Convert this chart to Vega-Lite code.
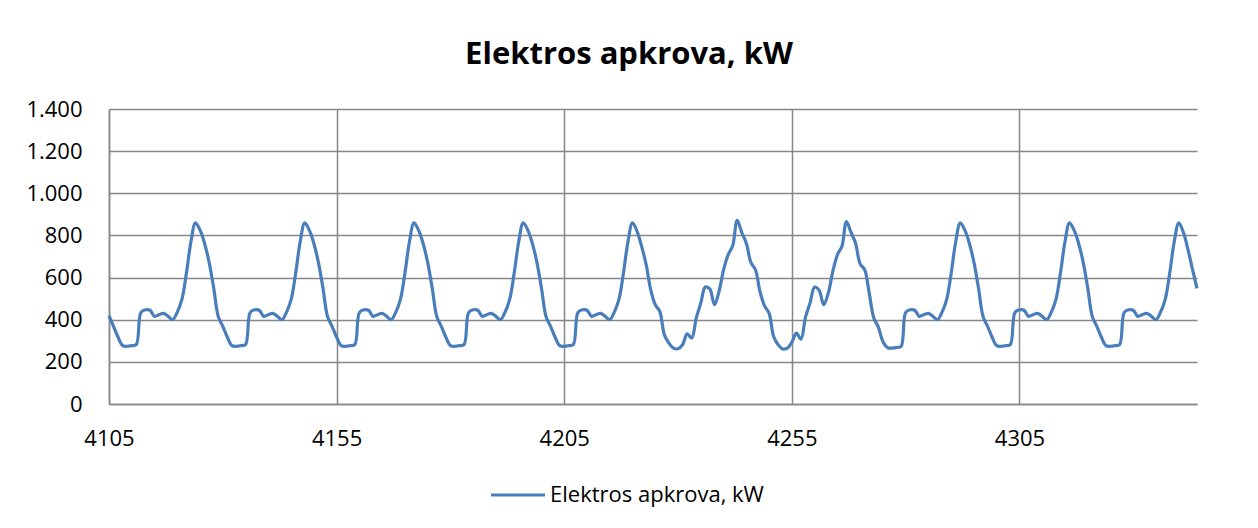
{
  "$schema": "https://vega.github.io/schema/vega-lite/v6.json",
  "width": 1088,
  "height": 295,
  "autosize": {"type": "none"},
  "padding": {"left": 109, "top": 109, "right": 61, "bottom": 124},
  "background": "white",
  "title": {"text": "Elektros apkrova, kW", "font": "Open Sans", "fontSize": 31, "fontWeight": "bold", "color": "#000000", "anchor": "middle", "dx": -24, "offset": 3, "baseline": "alphabetic"},
  "data": {"values": [
    {"x":4105,"y":419},{"x":4106,"y":368},{"x":4107,"y":317},{"x":4108,"y":277},{"x":4109,"y":274},{"x":4110,"y":277},{"x":4111,"y":282},{"x":4112,"y":434},{"x":4113,"y":447},{"x":4114,"y":445},{"x":4115,"y":416},{"x":4116,"y":424},{"x":4117,"y":430},{"x":4118,"y":416},{"x":4119,"y":400},{"x":4120,"y":436},{"x":4121,"y":495},{"x":4122,"y":620},{"x":4123,"y":770},{"x":4124,"y":860},{"x":4125,"y":825},{"x":4126,"y":762},{"x":4127,"y":672},{"x":4128,"y":550},
    {"x":4129,"y":415},{"x":4130,"y":368},{"x":4131,"y":317},{"x":4132,"y":277},{"x":4133,"y":274},{"x":4134,"y":277},{"x":4135,"y":282},{"x":4136,"y":434},{"x":4137,"y":447},{"x":4138,"y":445},{"x":4139,"y":416},{"x":4140,"y":424},{"x":4141,"y":430},{"x":4142,"y":416},{"x":4143,"y":400},{"x":4144,"y":436},{"x":4145,"y":495},{"x":4146,"y":620},{"x":4147,"y":770},{"x":4148,"y":860},{"x":4149,"y":825},{"x":4150,"y":762},{"x":4151,"y":672},{"x":4152,"y":550},
    {"x":4153,"y":415},{"x":4154,"y":368},{"x":4155,"y":317},{"x":4156,"y":277},{"x":4157,"y":274},{"x":4158,"y":277},{"x":4159,"y":282},{"x":4160,"y":434},{"x":4161,"y":447},{"x":4162,"y":445},{"x":4163,"y":416},{"x":4164,"y":424},{"x":4165,"y":430},{"x":4166,"y":416},{"x":4167,"y":400},{"x":4168,"y":436},{"x":4169,"y":495},{"x":4170,"y":620},{"x":4171,"y":770},{"x":4172,"y":860},{"x":4173,"y":825},{"x":4174,"y":762},{"x":4175,"y":672},{"x":4176,"y":550},
    {"x":4177,"y":415},{"x":4178,"y":368},{"x":4179,"y":317},{"x":4180,"y":277},{"x":4181,"y":274},{"x":4182,"y":277},{"x":4183,"y":282},{"x":4184,"y":434},{"x":4185,"y":447},{"x":4186,"y":445},{"x":4187,"y":416},{"x":4188,"y":424},{"x":4189,"y":430},{"x":4190,"y":416},{"x":4191,"y":400},{"x":4192,"y":436},{"x":4193,"y":495},{"x":4194,"y":620},{"x":4195,"y":770},{"x":4196,"y":860},{"x":4197,"y":825},{"x":4198,"y":762},{"x":4199,"y":672},{"x":4200,"y":550},
    {"x":4201,"y":415},{"x":4202,"y":368},{"x":4203,"y":317},{"x":4204,"y":277},{"x":4205,"y":274},{"x":4206,"y":277},{"x":4207,"y":282},{"x":4208,"y":434},{"x":4209,"y":447},{"x":4210,"y":445},{"x":4211,"y":416},{"x":4212,"y":424},{"x":4213,"y":430},{"x":4214,"y":416},{"x":4215,"y":400},{"x":4216,"y":436},{"x":4217,"y":495},{"x":4218,"y":620},{"x":4219,"y":770},{"x":4220,"y":860},{"x":4221,"y":819},{"x":4222,"y":748},{"x":4223,"y":661},{"x":4224,"y":542},
    {"x":4225,"y":471},{"x":4226,"y":439},{"x":4227,"y":328},{"x":4228,"y":289},{"x":4229,"y":265},{"x":4230,"y":262},{"x":4231,"y":281},{"x":4232,"y":333},{"x":4233,"y":313},{"x":4234,"y":408},{"x":4235,"y":479},{"x":4236,"y":555},{"x":4237,"y":545},{"x":4238,"y":471},{"x":4239,"y":534},{"x":4240,"y":637},{"x":4241,"y":708},{"x":4242,"y":751},{"x":4243,"y":871},{"x":4244,"y":814},{"x":4245,"y":763},{"x":4246,"y":672},{"x":4247,"y":637},{"x":4248,"y":534},
    {"x":4249,"y":466},{"x":4250,"y":431},{"x":4251,"y":320},{"x":4252,"y":281},{"x":4253,"y":261},{"x":4254,"y":265},{"x":4255,"y":292},{"x":4256,"y":336},{"x":4257,"y":308},{"x":4258,"y":412},{"x":4259,"y":479},{"x":4260,"y":555},{"x":4261,"y":539},{"x":4262,"y":471},{"x":4263,"y":526},{"x":4264,"y":629},{"x":4265,"y":708},{"x":4266,"y":748},{"x":4267,"y":866},{"x":4268,"y":814},{"x":4269,"y":763},{"x":4270,"y":665},{"x":4271,"y":637},{"x":4272,"y":526},
    {"x":4273,"y":408},{"x":4274,"y":365},{"x":4275,"y":297},{"x":4276,"y":268},{"x":4277,"y":265},{"x":4278,"y":268},{"x":4279,"y":273},{"x":4280,"y":434},{"x":4281,"y":447},{"x":4282,"y":445},{"x":4283,"y":416},{"x":4284,"y":424},{"x":4285,"y":430},{"x":4286,"y":416},{"x":4287,"y":400},{"x":4288,"y":436},{"x":4289,"y":495},{"x":4290,"y":620},{"x":4291,"y":770},{"x":4292,"y":860},{"x":4293,"y":825},{"x":4294,"y":762},{"x":4295,"y":672},{"x":4296,"y":550},
    {"x":4297,"y":415},{"x":4298,"y":368},{"x":4299,"y":317},{"x":4300,"y":277},{"x":4301,"y":274},{"x":4302,"y":277},{"x":4303,"y":282},{"x":4304,"y":434},{"x":4305,"y":447},{"x":4306,"y":445},{"x":4307,"y":416},{"x":4308,"y":424},{"x":4309,"y":430},{"x":4310,"y":416},{"x":4311,"y":400},{"x":4312,"y":436},{"x":4313,"y":495},{"x":4314,"y":620},{"x":4315,"y":770},{"x":4316,"y":860},{"x":4317,"y":825},{"x":4318,"y":762},{"x":4319,"y":672},{"x":4320,"y":550},
    {"x":4321,"y":415},{"x":4322,"y":368},{"x":4323,"y":317},{"x":4324,"y":277},{"x":4325,"y":274},{"x":4326,"y":277},{"x":4327,"y":282},{"x":4328,"y":434},{"x":4329,"y":447},{"x":4330,"y":445},{"x":4331,"y":416},{"x":4332,"y":424},{"x":4333,"y":430},{"x":4334,"y":416},{"x":4335,"y":400},{"x":4336,"y":436},{"x":4337,"y":495},{"x":4338,"y":620},{"x":4339,"y":770},{"x":4340,"y":860},{"x":4341,"y":815},{"x":4342,"y":735},{"x":4343,"y":640},{"x":4344,"y":549}
  ]},
  "mark": {"type": "line", "interpolate": "catmull-rom", "strokeWidth": 3.2, "clip": false},
  "encoding": {
    "x": {"field": "x", "type": "quantitative",
      "scale": {"domain": [4105, 4344], "nice": false, "zero": false},
      "axis": {"values": [4105, 4155, 4205, 4255, 4305], "title": null, "grid": true, "ticks": false, "format": "d", "labelFlush": false, "labelPadding": 24, "labelFontSize": 22, "labelFont": "Open Sans", "labelColor": "#000000", "domainColor": "#878787", "domainWidth": 1.5, "gridColor": "#878787", "gridWidth": 1.5}},
    "y": {"field": "y", "type": "quantitative",
      "scale": {"domain": [0, 1400], "nice": false},
      "axis": {"values": [0, 200, 400, 600, 800, 1000, 1200, 1400], "title": null, "grid": true, "ticks": false, "labelExpr": "replace(format(datum.value, ','), ',', '.')", "labelPadding": 27, "labelFontSize": 22, "labelFont": "Open Sans", "labelColor": "#000000", "domainColor": "#878787", "domainWidth": 1.5, "gridColor": "#878787", "gridWidth": 1.5}},
    "color": {"datum": "Elektros apkrova, kW", "scale": {"range": ["#4A7EBB"]},
      "legend": {"title": null, "orient": "none", "legendX": 380, "legendY": 357, "symbolType": "stroke", "symbolSize": 2916, "symbolStrokeWidth": 3.2, "labelFontSize": 22, "labelFont": "Open Sans", "labelColor": "#000000", "labelOffset": 3, "labelLimit": 0}}
  },
  "config": {"view": {"stroke": null}}
}
